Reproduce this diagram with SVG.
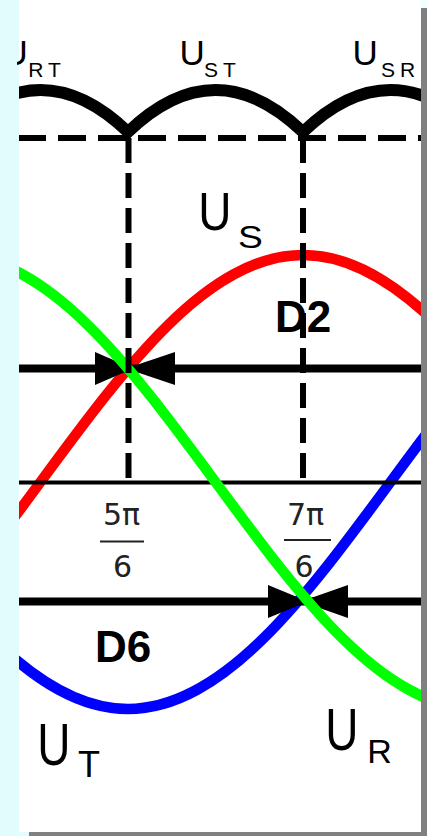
<svg xmlns="http://www.w3.org/2000/svg" width="427" height="836" viewBox="0 0 427 836">
<defs>
<linearGradient id="bg" x1="0" y1="0" x2="1" y2="0">
<stop offset="0" stop-color="#e2fbfc"/>
<stop offset="1" stop-color="#f0ffff"/>
</linearGradient>
<clipPath id="panel"><rect x="19" y="0" width="402" height="832"/></clipPath>
<clipPath id="txtclip"><rect x="17" y="0" width="404" height="832"/></clipPath>
<style>
.wave{fill:none;stroke-width:10.5;stroke-linejoin:round}
.blk{fill:none;stroke:#000}
.dash{fill:none;stroke:#000;stroke-width:6}
.lbl{font-family:"Liberation Sans",Arial,sans-serif;fill:#000}
.bold{font-family:"Liberation Sans",Arial,sans-serif;font-weight:bold;font-size:44px;fill:#000}
.frac{font-family:"DejaVu Sans","Liberation Sans",sans-serif;font-size:30px;fill:#222;text-anchor:middle}
.sub{letter-spacing:5px}
</style>
</defs>
<rect x="0" y="0" width="427" height="836" fill="url(#bg)"/>
<rect x="29" y="8" width="398" height="828" fill="#808080"/>
<rect x="19" y="0" width="402" height="832" fill="#fff"/>

<g clip-path="url(#panel)">
<g id="node-D2-label"><text class="bold" x="275" y="332">D2</text></g>
<g id="node-D6-label"><text class="bold" x="95" y="662">D6</text></g>

<g id="node-US-wave"><path class="wave" stroke="#ff0000" d="M -222 709 C -127 709 -45.11 598.3 40.5 482 C 126.11 365.7 208 255 303 255 C 398 255 479.89 365.7 565.5 482"/></g>
<g id="node-UT-wave"><path class="wave" stroke="#0000ff" d="M -134.5 482 C -48.89 598.3 33 709 128 709 C 223 709 304.89 598.3 390.5 482 C 476.11 365.7 558 255 653 255"/></g>

<g id="connectors">
<line class="blk" x1="19" y1="482.5" x2="421" y2="482.5" stroke-width="4"/>
<line class="blk" x1="19" y1="368.5" x2="421" y2="368.5" stroke-width="8"/>
<line class="blk" x1="19" y1="601.5" x2="421" y2="601.5" stroke-width="8"/>
<polygon points="95,352 95,385 133,368.5" fill="#000"/>
<polygon points="175,352 175,385 126,368.5" fill="#000"/>
<polygon points="268,585 268,618 308,601.5" fill="#000"/>
<polygon points="348,585 348,618 301,601.5" fill="#000"/>
<line class="dash" x1="18" y1="138" x2="421" y2="138" stroke-dasharray="28 12"/>
</g>

<g id="node-UR-wave"><path class="wave" stroke="#00ff00" d="M -47 255 C 48 255 129.89 365.7 215.5 482 C 301.11 598.3 383 709 478 709"/></g>

<g id="node-rectified"><path fill="none" stroke="#000" stroke-width="12" stroke-linejoin="miter" d="M -47 132 C 11.33 76 69.67 76 128 132 C 186.33 76 244.67 76 303 132 C 361.33 76 419.67 76 478 132"/></g>

<g id="connectors-vertical">
<line class="dash" x1="128.5" y1="138" x2="128.5" y2="478" stroke-dasharray="25 10"/>
<line class="dash" x1="303" y1="138" x2="303" y2="478" stroke-dasharray="25 10"/>
</g>
</g>

<g clip-path="url(#txtclip)">
<g id="node-URT-label"><text class="lbl" x="2.5" y="64.5" font-size="35">U</text><text class="lbl sub" x="28.3" y="77" font-size="21">RT</text></g>
</g>
<g id="node-UST-label"><text class="lbl" x="179.5" y="64.5" font-size="35">U</text><text class="lbl sub" x="204" y="77" font-size="21">ST</text></g>
<g id="node-USR-label"><text class="lbl" x="352.5" y="64.5" font-size="35">U</text><text class="lbl sub" x="381" y="77" font-size="21">SR</text></g>

<g id="node-US-label"><text class="lbl" font-size="46" transform="translate(198.3,230) scale(1,1.15)">U</text><text class="lbl" font-size="31" transform="translate(238,248) scale(1.2,1)">S</text></g>

<g id="node-frac-5pi"><text class="frac" x="121.5" y="525">5π</text><line x1="100" y1="541.5" x2="144" y2="541.5" stroke="#222" stroke-width="2"/><text class="frac" x="122.5" y="577">6</text></g>
<g id="node-frac-7pi"><text class="frac" x="305.5" y="525">7π</text><line x1="284" y1="540" x2="331" y2="540" stroke="#222" stroke-width="2"/><text class="frac" x="304" y="577">6</text></g>

<g id="node-UT-label"><text class="lbl" font-size="46" transform="translate(37.3,765) scale(1,1.3)">U</text><text class="lbl" x="78" y="777" font-size="36">T</text></g>
<g id="node-UR-label"><text class="lbl" font-size="46" transform="translate(325.3,750) scale(1,1.3)">U</text><text class="lbl" x="367.3" y="763" font-size="34">R</text></g>
</svg>
